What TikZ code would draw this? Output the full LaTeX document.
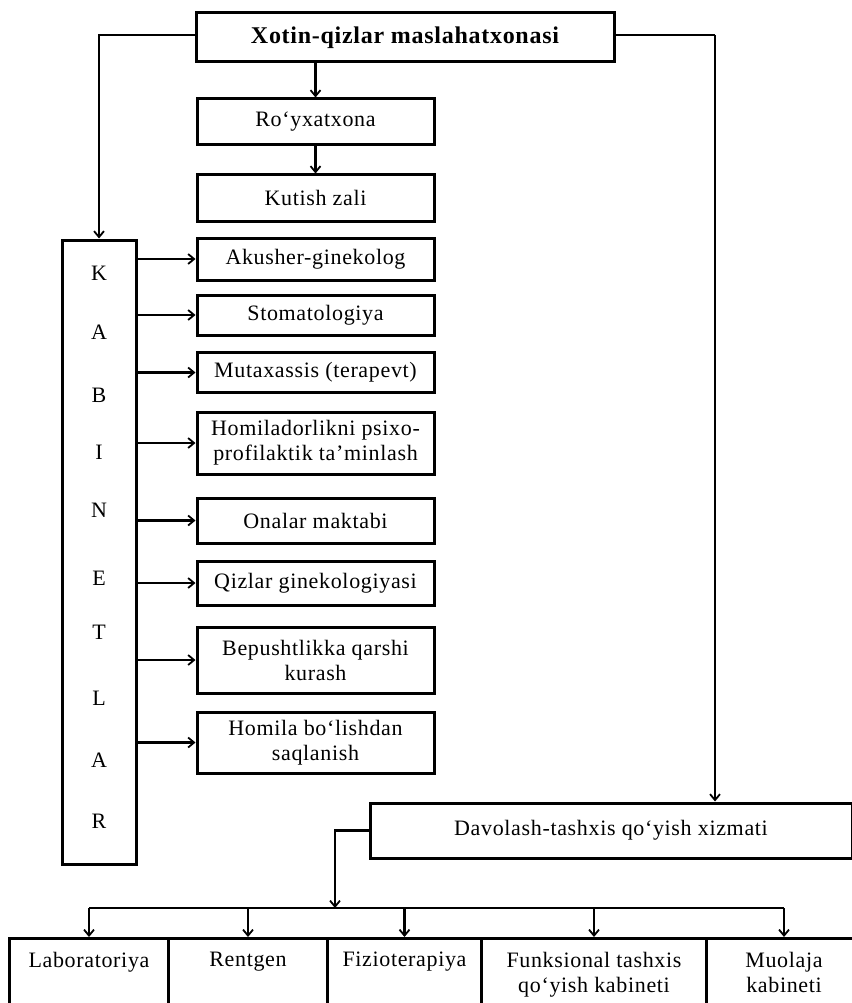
\documentclass[tikz,border=0pt]{standalone}
\usepackage{fontspec}
\setmainfont{Liberation Serif}[LetterSpace=3]
\usetikzlibrary{arrows.meta}
\begin{document}
\begin{tikzpicture}[x=1pt,y=-1pt,
  txt/.style={font=\fontsize{22}{25}\selectfont},
  box/.style={draw, line width=3pt, inner sep=0pt, align=center, txt},
  cell/.style={draw, line width=3pt, minimum height=80, anchor=north west, inner sep=0pt},
  celltxt/.style={txt, align=center, anchor=north, inner sep=0pt},
  arr/.style={line width=2.8pt, -{Straight Barb[length=6pt,width=10pt,line width=1.8pt]}},
  ln/.style={line width=2.8pt},
  letter/.style={txt}
]
\useasboundingbox (0,0) rectangle (851,1003);
\fill[white] (0,0) rectangle (851,1003);

% head office
\node[box, minimum width=418, minimum height=49, font=\bfseries\fontsize{24}{27}\selectfont] (top) at (405,37.5) {Xotin-qizlar maslahatxonasi};

% reception column
\node[box, minimum width=237, minimum height=46] (roy) at (315.5,122) {Ro‘yxatxona};
\node[box, minimum width=237, minimum height=46] (kut) at (315.5,198) {Kutish zali};

% cabinets
\node[box, minimum width=237, minimum height=42] (aku) at (315.5,259) {Akusher-ginekolog};
\node[box, minimum width=237, minimum height=40] (sto) at (315.5,315) {Stomatologiya};
\node[box, minimum width=237, minimum height=40] (mut) at (315.5,372.5) {Mutaxassis (terapevt)};
\node[box, minimum width=237, minimum height=62] (hom) at (315.5,443) {Homiladorlikni psixo-\\profilaktik ta’minlash};
\node[box, minimum width=237, minimum height=45] (ona) at (315.5,520.5) {Onalar maktabi};
\node[box, minimum width=237, minimum height=44] (qiz) at (315.5,583) {Qizlar ginekologiyasi};
\node[box, minimum width=237, minimum height=66] (bep) at (315.5,660) {Bepushtlikka qarshi\\kurash};
\node[box, minimum width=237, minimum height=61] (hml) at (315.5,742.5) {Homila bo‘lishdan\\saqlanish};

% vertical "KABINETLAR" box
\node[box, minimum width=74, minimum height=624] (kab) at (99,552) {};
\node[letter] (l1) at (99,273) {K};
\node[letter] (l2) at (99,332) {A};
\node[letter] (l3) at (99,395) {B};
\node[letter] (l4) at (99,452) {I};
\node[letter] (l5) at (99,510) {N};
\node[letter] (l6) at (99,578) {E};
\node[letter] (l7) at (99,632) {T};
\node[letter] (l8) at (99,698) {L};
\node[letter] (l9) at (99,760) {A};
\node[letter] (l10) at (99,821) {R};

% diagnostics service
\node[box, minimum width=482, minimum height=55] (dav) at (611,830.5) {Davolash-tashxis qo‘yish xizmati};

% bottom row of cabinets
\node[cell, minimum width=159] (lab) at (8,937) {};
\node[cell, minimum width=159] (ren) at (167,937) {};
\node[cell, minimum width=154] (fiz) at (326,937) {};
\node[cell, minimum width=225] (fun) at (480,937) {};
\node[cell, minimum width=155] (muo) at (705,937) {};
\node[celltxt] (labt) at ([yshift=-15pt]lab.north) {Laboratoriya};
\node[celltxt] (rent) at ([yshift=-15pt]ren.north) {Rentgen};
\node[celltxt] (fizt) at ([yshift=-15pt]fiz.north) {Fizioterapiya};
\node[celltxt] (funt) at ([yshift=-15pt]fun.north) {Funksional tashxis\\qo‘yish kabineti};
\node[celltxt] (muot) at ([yshift=-15pt]muo.north) {Muolaja\\kabineti};

% connectors
\coordinate (rj) at (715,35);
\coordinate (bj) at (335,908);
\draw[arr] (top.west |- rj) -| (kab.north);
\draw[ln] (top.east |- rj) -- (rj);
\draw[arr] (rj) -- (rj |- dav.north);
\draw[arr] (roy.north |- top.south) -- (roy.north);
\draw[arr] (roy.south) -- (kut.north);
\foreach \n in {aku,sto,mut,hom,ona,qiz,bep,hml}
  \draw[arr] (kab.east |- \n.west) -- (\n.west);
\draw[arr] (dav.west) -| (bj);
\draw[ln] (lab.north |- bj) -- (muo.north |- bj);
\foreach \n in {lab,ren,fiz,fun,muo}
  \draw[arr] (\n.north |- bj) -- (\n.north);
\end{tikzpicture}
\end{document}
